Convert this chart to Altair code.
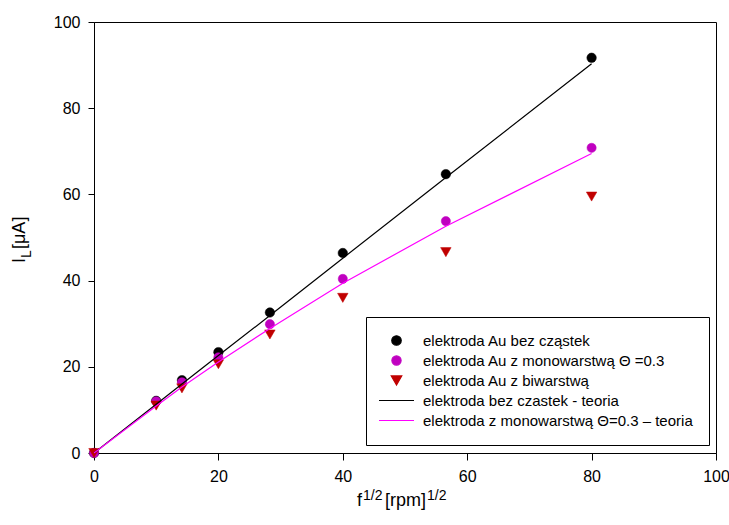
import altair as alt
import pandas as pd

# x values: sqrt of rotation rate
x_vals = [0, 10, 14.14, 20, 28.28, 40, 56.57, 80]
au_bez = [0, 12.1, 16.9, 23.4, 32.6, 46.4, 64.7, 91.7]
au_mono = [0, 12.0, 16.4, 22.2, 29.9, 40.4, 53.8, 70.8]
au_bi = [0, 11.0, 15.0, 20.6, 27.5, 36.0, 46.6, 59.5]
teoria_bez = [0, 11.3, 16.0, 22.6, 31.9, 45.2, 63.9, 90.3]
teoria_mono = [0, 10.9, 15.3, 21.1, 28.9, 39.4, 52.6, 69.5]

series_names = [
    "elektroda Au bez cząstek",
    "elektroda Au z monowarstwą Θ =0.3",
    "elektroda Au z biwarstwą",
    "elektroda bez czastek - teoria",
    "elektroda z monowarstwą Θ=0.3 – teoria",
]
colors = ["#000000", "#C000C0", "#C00000", "#000000", "#FF00FF"]
shapes = ["circle", "circle", "triangle-down", "M-3.5,0H3.5", "M-3.5,0H3.5"]
sizes = [90, 85, 110, 100, 100]
axis_ticks = [0, 20, 40, 60, 80, 100]

FONT = "Liberation Sans"

pts_rows = []
for name, ys in zip(series_names[:3], [au_bez, au_mono, au_bi]):
    for xv, yv in zip(x_vals, ys):
        pts_rows.append({"x": xv, "y": yv, "series": name})
pts = pd.DataFrame(pts_rows)

line_rows = []
for name, ys in zip(series_names[3:], [teoria_bez, teoria_mono]):
    for xv, yv in zip(x_vals, ys):
        line_rows.append({"x": xv, "y": yv, "series": name})
lines = pd.DataFrame(line_rows)

xscale = alt.Scale(domain=[0, 100], nice=False)
yscale = alt.Scale(domain=[0, 100], nice=False)
xaxis = alt.Axis(values=axis_ticks, title=None, grid=False, labelFontSize=16,
                 labelFont=FONT, labelColor="black", tickSize=7, labelPadding=8,
                 labelFlush=False, domainColor="black", tickColor="black")
yaxis = alt.Axis(values=axis_ticks, title=None, grid=False, labelFontSize=16,
                 labelFont=FONT, labelColor="black", tickSize=6, labelPadding=8,
                 labelFlush=False, domainColor="black", tickColor="black")

legend = alt.Legend(
    title=None, orient="none", legendX=272, legendY=295,
    strokeColor="black", fillColor="white", padding=16,
    labelFontSize=15, labelFont=FONT, labelColor="black", labelLimit=500,
    labelOffset=19, symbolOffset=7, rowPadding=4, symbolStrokeWidth=1.2,
    symbolOpacity=1,
)

sdom = series_names
fill_enc = alt.Fill("series:N", scale=alt.Scale(domain=sdom, range=colors), legend=legend)
stroke_enc = alt.Stroke("series:N", scale=alt.Scale(domain=sdom, range=colors), legend=legend)
shape_enc = alt.Shape("series:N", scale=alt.Scale(domain=sdom, range=shapes), legend=legend)
size_enc = alt.Size("series:N", scale=alt.Scale(type="ordinal", domain=sdom, range=sizes), legend=legend)

points = alt.Chart(pts).mark_point(filled=True, opacity=1, strokeWidth=0.5).encode(
    x=alt.X("x:Q", scale=xscale, axis=xaxis),
    y=alt.Y("y:Q", scale=yscale, axis=yaxis),
    fill=fill_enc,
    stroke=stroke_enc,
    shape=shape_enc,
    size=size_enc,
)

theory = alt.Chart(lines).mark_line(strokeWidth=1.2).encode(
    x=alt.X("x:Q", scale=xscale),
    y=alt.Y("y:Q", scale=yscale),
    stroke=stroke_enc,
)

dummy = pd.DataFrame({"k": [0]})


def label(txt, x, y, size, angle=0):
    return alt.Chart(dummy).mark_text(
        text=txt, align="left", baseline="alphabetic", fontSize=size,
        font=FONT, color="black", angle=angle,
    ).encode(x=alt.value(x), y=alt.value(y))


# x-axis title  f^{1/2}[rpm]^{1/2}
t1 = label("f", 263, 484, 18)
t2 = label("1/2", 269, 478, 14)
t3 = label("[rpm]", 291, 484, 18)
t4 = label("1/2", 333, 478, 14)
# y-axis title  I_L[μA]
u1 = label("I", -69, 241, 18, 270)
u2 = label("L", -63, 236, 14, 270)
u3 = label("[μA]", -69, 227, 18, 270)

chart = alt.layer(points, theory, t1, t2, t3, t4, u1, u2, u3).properties(
    width=622, height=431,
    autosize=alt.AutoSizeParams(type="none"),
    padding={"left": 94, "top": 22, "right": 13, "bottom": 72},
    background="white",
).configure_view(stroke="black", strokeWidth=1).configure_axis(domainWidth=1, tickWidth=1)

chart.save("out.html", embed_options={"renderer": "svg", "actions": False})
